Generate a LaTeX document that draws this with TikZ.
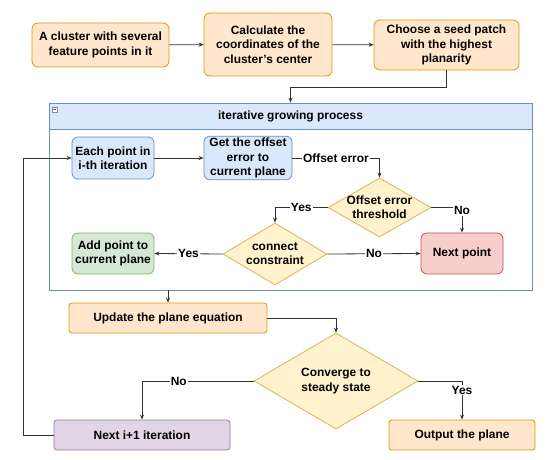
\documentclass[tikz,border=0pt]{standalone}
\usepackage{fontspec}
\setmainfont{Liberation Sans}
\usepackage{tikz}
\usetikzlibrary{arrows.meta,positioning,shapes.geometric,calc}
\definecolor{orangefill}{HTML}{FFE6CC}
\definecolor{orangeline}{HTML}{D79B00}
\definecolor{bluefill}{HTML}{DAE8FC}
\definecolor{blueline}{HTML}{6C8EBF}
\definecolor{greenfill}{HTML}{D5E8D4}
\definecolor{greenline}{HTML}{82B366}
\definecolor{redfill}{HTML}{F8CECC}
\definecolor{redline}{HTML}{B85450}
\definecolor{purplefill}{HTML}{E1D5E7}
\definecolor{purpleline}{HTML}{9673A6}
\definecolor{yellowfill}{HTML}{FFF2CC}
\definecolor{yellowline}{HTML}{D6B656}
\definecolor{wire}{HTML}{333333}
\tikzset{
  flowbox/.style={
    rectangle, draw=#1line, fill=#1fill, line width=0.8bp,
    rounded corners=6bp, align=center, inner sep=2bp,
    font=\fontsize{12}{14.3}\selectfont\bfseries
  },
  flowbox/.default=orange,
  flatbox/.style={flowbox=#1, rounded corners=3bp},
  flatbox/.default=orange,
  testbox/.style={
    diamond, draw=yellowline, fill=yellowfill, line width=0.8bp,
    align=center, inner sep=-3bp, aspect=1.75,
    font=\fontsize{12}{14.3}\selectfont\bfseries
  },
  wirearrow/.style={
    -{Stealth[length=5bp,width=4bp]}, line width=0.8bp, color=wire
  },
  wirelabel/.style={
    fill=white, inner sep=1bp, text=black,
    font=\fontsize{12}{14}\selectfont\bfseries
  },
}

\begin{document}
\begin{tikzpicture}[x=1bp,y=-1bp]
\useasboundingbox (0,0) rectangle (550,460);
% top row
\node[flowbox, minimum width=137bp, minimum height=44bp] (clus) at (100.5,45) {A cluster with several\\feature points in it};
\node[flowbox, minimum width=128bp, minimum height=63bp] (calc) at (268,44.5) {Calculate the\\coordinates of the\\cluster's center};
\node[flowbox, minimum width=145bp, minimum height=50bp] (seed) at (446.5,45) {Choose a seed patch\\with the highest\\planarity};
% growing container
\node[rectangle, draw=blueline, line width=0.8bp, minimum width=483bp, minimum height=187bp] (grow) at (290.5,196.5) {};
\node[rectangle, draw=blueline, fill=bluefill, line width=0.8bp, minimum width=483bp, minimum height=26bp,
  font=\fontsize{12}{14}\selectfont\bfseries] (growhead) at (290.5,116) {iterative growing process};
\node[rectangle, draw=black!45, fill=white, line width=0.4bp, minimum size=4.5bp, inner sep=0pt] (fold) at (54.5,109.5) {};
\draw[black!60, line width=0.5bp] ([xshift=-1.3bp]fold.center) -- ([xshift=1.3bp]fold.center);
% inside the container
\node[flowbox=blue, minimum width=82bp, minimum height=42bp] (each) at (113,158) {Each point in\\i-th iteration};
\node[flowbox=blue, minimum width=88bp, minimum height=42bp] (offs) at (248,158) {Get the offset\\error to\\current plane};
\node[testbox, minimum width=103bp, minimum height=59bp] (thr) at (379.5,207.5) {Offset error\\threshold};
\node[testbox, minimum width=104bp, minimum height=62bp] (con) at (275,254) {connect\\constraint};
\node[flowbox=green, minimum width=82bp, minimum height=41bp] (addp) at (113,253.5) {Add point to\\current plane};
\node[flowbox=red, minimum width=82bp, minimum height=41bp] (nextp) at (462,253.5) {Next point};
% lower part
\node[flatbox, minimum width=198bp, minimum height=30bp] (upd) at (168,318) {Update the plane equation};
\node[testbox, minimum width=164bp, minimum height=96bp] (conv) at (336,381) {Converge to\\steady state};
\node[flatbox=purple, minimum width=176bp, minimum height=30bp] (nexti) at (142,435) {Next i+1 iteration};
\node[flatbox, minimum width=146bp, minimum height=30bp] (outp) at (462,435) {Output the plane};

\draw[wirearrow] (clus) -- (calc);
\draw[wirearrow] (calc) -- (seed);
\draw[wirearrow] (seed.south) -- ++(0,17) -| (growhead.north);
\draw[wirearrow] (each) -- (offs);
\draw[wirearrow] (offs.east) -| (thr.north) node[wirelabel, pos=0.25] {Offset error};
\draw[wirearrow] (thr.west) -| (con.north) node[wirelabel, pos=0.25] {Yes};
\draw[wirearrow] (thr.east) -| (nextp.north) node[wirelabel, pos=0.5, yshift=-3bp] {No};
\draw[wirearrow] (con.west) -- (addp.east) node[wirelabel, midway] {Yes};
\draw[wirearrow] (con.east) -- (nextp.west) node[wirelabel, midway] {No};
\draw[wirearrow] (grow.south -| upd.north) -- (upd.north);
\draw[wirearrow] (upd.east) -| (conv.north);
\draw[wirearrow] (conv.west) -| (nexti.north) node[wirelabel, pos=0.335] {No};
\draw[wirearrow] (conv.east) -| (outp.north) node[wirelabel, pos=0.62] {Yes};
\draw[wirearrow] (nexti.west) -- ++(-30,0) |- (each.west);
\end{tikzpicture}
\end{document}
